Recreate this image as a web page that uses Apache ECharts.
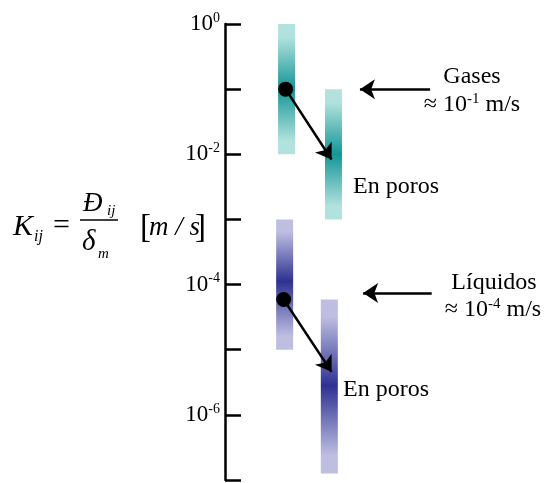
<!DOCTYPE html>
<html>
<head>
<meta charset="utf-8">
<script src="https://cdn.jsdelivr.net/npm/echarts@6/dist/echarts.min.js"></script>
<style>
  html, body { margin: 0; padding: 0; background: #fff; }
  #main { width: 544px; height: 483px; }
</style>
</head>
<body>
<div id="main"></div>
<script>
// tick labels shown on the log axis (exponents of ten)
var labelExponents = [0, -2, -4, -6];

// gradient bars: column (x units), top / bottom / darkest value (m/s)
var barGroups = ['gas', 'gas', 'liq', 'liq'];
var barColumns = [1.93, 3.40, 1.87, 3.27];
var barTops = [1, 1e-1, 1e-3, Math.pow(10, -4.23)];
var barBottoms = [1e-2, 1e-3, 1e-5, Math.pow(10, -6.9)];
var barPeaks = [1e-1, 1e-2, Math.pow(10, -3.95), Math.pow(10, -5.55)];

// typical value dots
var dotColumns = [1.90, 1.84];
var dotValues = [1e-1, Math.pow(10, -4.23)];

// arrow heads ("en poros")
var arrowEndColumns = [3.34, 3.34];
var arrowEndValues = [Math.pow(10, -2.08), Math.pow(10, -5.34)];

// pointer arrows from the side notes
var pointerFrom = [6.43, 6.48];
var pointerTo = [4.23, 4.33];
var pointerValues = [1e-1, Math.pow(10, -4.13)];

var palette = {
    gas: { light: '#b2e2de', dark: '#149696' },
    liq: { light: '#bebee1', dark: '#2e3192' }
};

var serif = '"Liberation Serif", "DejaVu Serif", serif';

var chart = echarts.init(document.getElementById('main'));

var barData = barColumns.map(function (x, i) {
    return [x, barTops[i], barBottoms[i], barPeaks[i], i];
});

var dotData = dotColumns.map(function (x, i) {
    return [x, dotValues[i]];
});

var arrowData = dotColumns.map(function (x, i) {
    return { coords: [[x, dotValues[i]], [arrowEndColumns[i], arrowEndValues[i]]] };
});

var pointerData = pointerFrom.map(function (x, i) {
    return { coords: [[x, pointerValues[i]], [pointerTo[i], pointerValues[i]]] };
});

function renderBar(params, api) {
    var x = api.value(0);
    var top = api.coord([x, api.value(1)]);
    var bottom = api.coord([x, api.value(2)]);
    var peak = api.coord([x, api.value(3)]);
    var idx = api.value(4);
    var col = palette[barGroups[idx]];
    var w = 17;
    var h = bottom[1] - top[1];
    var d = (peak[1] - top[1]) / h;
    return {
        type: 'rect',
        shape: { x: top[0] - w / 2, y: top[1], width: w, height: h },
        style: {
            fill: new echarts.graphic.LinearGradient(0, 0, 0, 1, [
                { offset: 0, color: col.light },
                { offset: d * 0.2, color: col.light },
                { offset: d, color: col.dark },
                { offset: d + (1 - d) * 0.8, color: col.light },
                { offset: 1, color: col.light }
            ])
        }
    };
}

function note(x, y, text, align) {
    return {
        type: 'text', x: x, y: y,
        style: { text: text, font: '24px ' + serif, fill: '#000', textAlign: align, textVerticalAlign: 'middle' }
    };
}

function powerNote(x, y, exp) {
    return {
        type: 'text', x: x, y: y,
        style: {
            text: '{n|≈ 10}{s|' + exp + '}{n| m/s}', textAlign: 'center', textVerticalAlign: 'middle',
            rich: {
                n: { fontFamily: serif, fontSize: 24, color: '#000', lineHeight: 26 },
                s: { fontFamily: serif, fontSize: 15, color: '#000', verticalAlign: 'top', lineHeight: 14 }
            }
        }
    };
}

function formulaText(x, y, text, font) {
    return {
        type: 'text', x: x, y: y,
        style: { text: text, font: font + ' ' + serif, fill: '#000', textVerticalAlign: 'middle' }
    };
}

var option = {
    animation: false,
    grid: { left: 225, right: 0, top: 24, bottom: 3 },
    xAxis: {
        type: 'value',
        min: 0,
        max: 10,
        show: false
    },
    yAxis: {
        type: 'log',
        logBase: 10,
        min: 1e-7,
        max: 1,
        interval: 1,
        splitLine: { show: false },
        axisLine: { show: true, lineStyle: { color: '#000', width: 2.5 } },
        axisTick: { show: true, inside: true, length: 16, lineStyle: { color: '#000', width: 2.5 } },
        axisLabel: {
            margin: 5,
            formatter: function (v) {
                var e = Math.round(Math.log(v) / Math.LN10);
                if (labelExponents.indexOf(e) < 0) {
                    return '';
                }
                return '{b|10}{s|' + e + '}';
            },
            rich: {
                b: { fontFamily: serif, fontSize: 23, color: '#000', lineHeight: 26 },
                s: { fontFamily: serif, fontSize: 14, color: '#000', verticalAlign: 'top', lineHeight: 14 }
            }
        }
    },
    series: [
        {
            type: 'custom',
            renderItem: renderBar,
            data: barData,
            encode: { x: 0, y: [1, 2] },
            z: 1
        },
        {
            type: 'lines',
            coordinateSystem: 'cartesian2d',
            data: arrowData,
            symbol: ['none', 'arrow'],
            symbolSize: 15,
            lineStyle: { color: '#000', width: 2.5, opacity: 1 },
            z: 3
        },
        {
            type: 'lines',
            coordinateSystem: 'cartesian2d',
            data: pointerData,
            symbol: ['none', 'arrow'],
            symbolSize: 15,
            lineStyle: { color: '#000', width: 2.5, opacity: 1 },
            z: 3
        },
        {
            type: 'scatter',
            data: dotData,
            symbol: 'circle',
            symbolSize: 15,
            itemStyle: { color: '#000', opacity: 1 },
            z: 4
        }
    ],
    graphic: [
        // formula
        formulaText(13, 227, 'K', 'italic 30px'),
        formulaText(34, 237, 'ij', 'italic 16px'),
        formulaText(53, 226, '=', '30px'),
        { type: 'line', shape: { x1: 80, y1: 220, x2: 118, y2: 220 }, style: { stroke: '#000', lineWidth: 1.3 } },
        formulaText(83, 204, 'Đ', 'italic 27px'),
        formulaText(107, 211, 'ij', 'italic 15px'),
        formulaText(82, 242, 'δ', 'italic 29px'),
        formulaText(98, 254, 'm', 'italic 15px'),
        formulaText(140, 228, '[', '33px'),
        formulaText(149, 228, 'm / s', 'italic 27px'),
        formulaText(195, 228, ']', '33px'),
        // side notes
        note(472, 77, 'Gases', 'center'),
        powerNote(472, 105, '-1'),
        note(353, 187, 'En poros', 'left'),
        note(494, 283, 'Líquidos', 'center'),
        powerNote(493, 310, '-4'),
        note(343, 390, 'En poros', 'left')
    ]
};

chart.setOption(option);
</script>
</body>
</html>
